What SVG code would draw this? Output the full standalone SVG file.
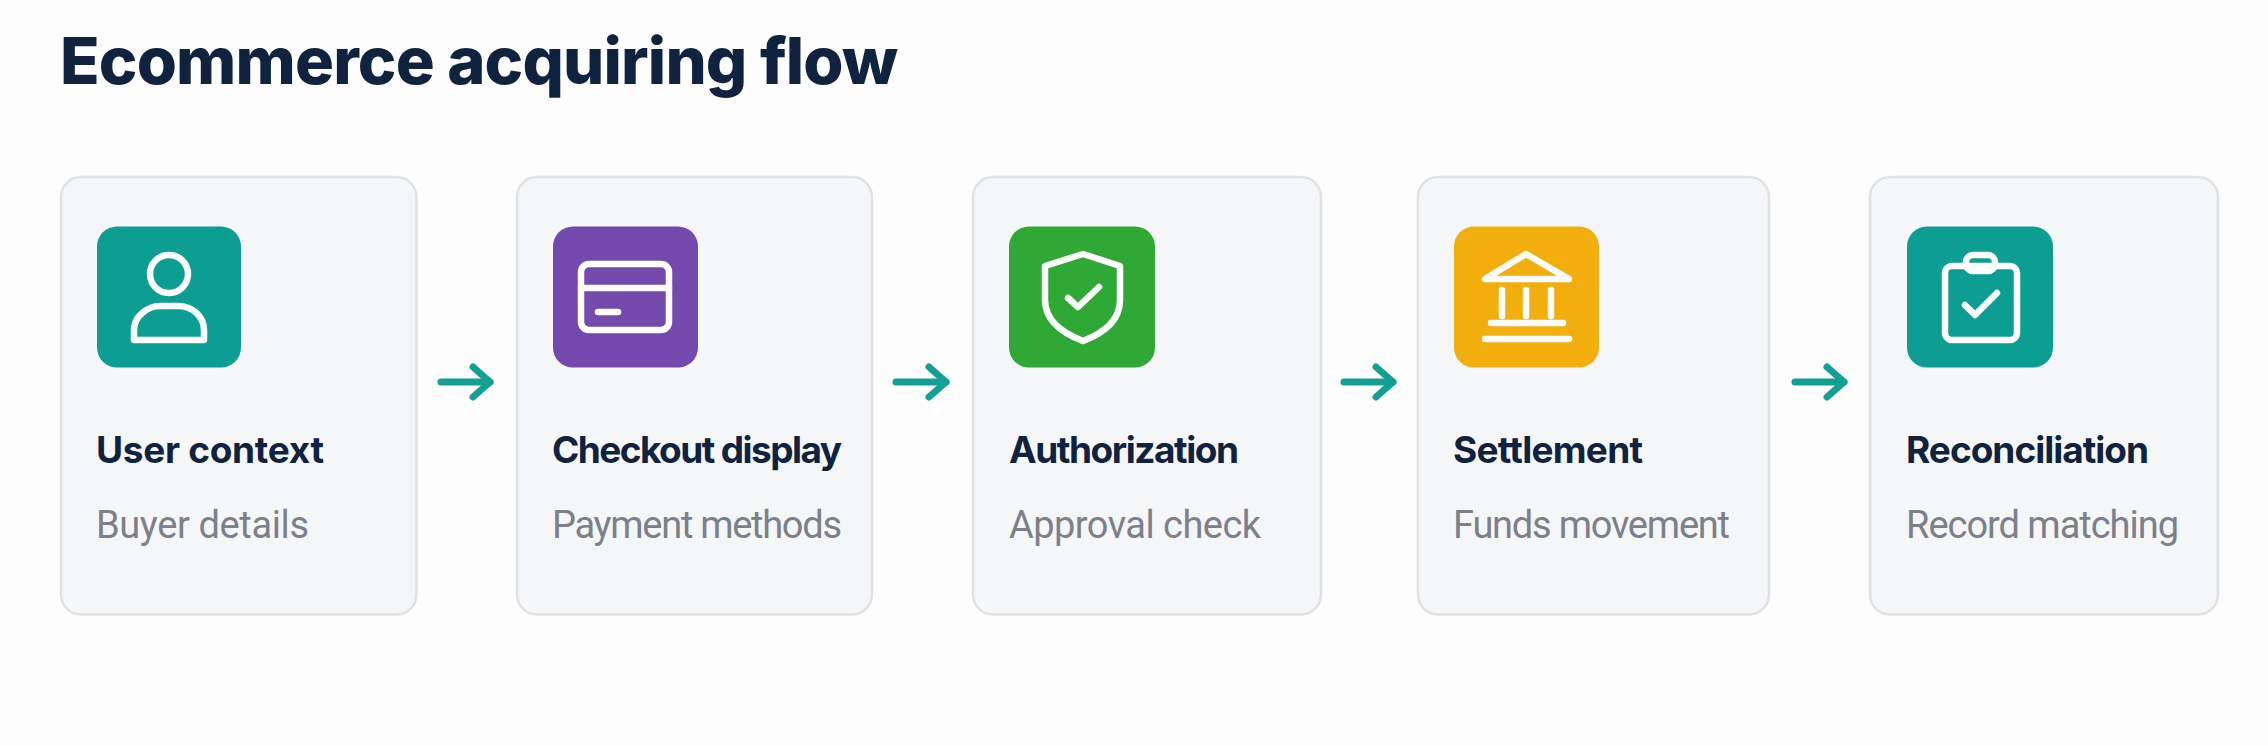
<svg xmlns="http://www.w3.org/2000/svg" width="2268" height="746" viewBox="0 0 2268 746">
<style>
.card{fill:#f5f6f8;stroke:#dfe1e5;stroke-width:2.5}
.ic{stroke:#fdfdfd;stroke-width:6.5;fill:none;stroke-linecap:round;stroke-linejoin:round}
.t{font-family:Inter,"Liberation Sans",sans-serif;font-weight:700;font-size:37px;fill:#0f2340}
.s{font-family:Roboto,"Liberation Sans",sans-serif;font-weight:400;font-size:38px;fill:#7c808a}
.title{font-family:Inter,"Liberation Sans",sans-serif;font-weight:800;font-size:65px;fill:#0f2340}
.conn{stroke:#12a095;stroke-width:7;fill:none;stroke-linecap:round;marker-end:url(#arrow)}
</style>
<defs>
<marker id="arrow" markerUnits="userSpaceOnUse" markerWidth="40" markerHeight="50" refX="30" refY="25" orient="auto" overflow="visible">
<path d="M13 10L30 25L13 40" fill="none" stroke="#12a095" stroke-width="7" stroke-linecap="round" stroke-linejoin="round"/>
</marker>
</defs>
<rect width="2268" height="746" fill="#fdfdfd"/>
<text id="title" class="title" x="60" y="84" textLength="838" lengthAdjust="spacing">Ecommerce acquiring flow</text>
<g id="node-user-context">
<rect class="card" x="61" y="177" width="355.5" height="437.5" rx="20"/>
<rect x="97" y="226.5" width="144" height="141" rx="20" fill="#0d9e93"/>
<circle class="ic" cx="169" cy="274" r="19"/>
<path class="ic" d="M134 340V330C134 316 148 306 160 306H178C192 306 204 316 204 330V340Z"/>
<text class="t" x="96" y="463" textLength="228" lengthAdjust="spacing">User context</text>
<text class="s" x="96" y="538" textLength="213" lengthAdjust="spacing">Buyer details</text>
</g>
<g id="node-checkout-display">
<rect class="card" x="517" y="177" width="355" height="437.5" rx="20"/>
<rect x="553" y="226.5" width="145" height="141" rx="20" fill="#7349ae"/>
<rect class="ic" x="581" y="264" width="88" height="66" rx="8"/>
<path class="ic" d="M581 288H669M598 312H618"/>
<text class="t" x="552" y="463" textLength="290" lengthAdjust="spacing">Checkout display</text>
<text class="s" x="552" y="538" textLength="290" lengthAdjust="spacing">Payment methods</text>
</g>
<g id="node-authorization">
<rect class="card" x="973" y="177" width="348" height="437.5" rx="20"/>
<rect x="1009" y="226.5" width="146" height="141" rx="20" fill="#2fa836"/>
<path class="ic" d="M1083 254L1120 266V300C1120 320 1104 333 1083 341C1062 333 1045 320 1045 300V266Z"/>
<path class="ic" d="M1068 298L1078 307L1099 287"/>
<text class="t" x="1009" y="463" textLength="230" lengthAdjust="spacing">Authorization</text>
<text class="s" x="1009" y="538" textLength="252" lengthAdjust="spacing">Approval check</text>
</g>
<g id="node-settlement">
<rect class="card" x="1418" y="177" width="351" height="437.5" rx="20"/>
<rect x="1454" y="226.5" width="145" height="141" rx="20" fill="#f2ae0d"/>
<path class="ic" d="M1526 254L1485 279H1569Z"/>
<path class="ic" d="M1502 290V316M1526 290V316M1551 290V316M1491 323H1563M1485 339H1569"/>
<text class="t" x="1453" y="463" textLength="190" lengthAdjust="spacing">Settlement</text>
<text class="s" x="1453" y="538" textLength="277" lengthAdjust="spacing">Funds movement</text>
</g>
<g id="node-reconciliation">
<rect class="card" x="1870" y="177" width="348" height="437.5" rx="20"/>
<rect x="1907" y="226.5" width="146" height="141" rx="20" fill="#0d9e93"/>
<rect class="ic" x="1945" y="266" width="72" height="74" rx="7"/>
<rect class="ic" x="1966" y="255" width="29" height="16" rx="7" fill="#0d9e93"/>
<path class="ic" d="M1965 305L1975 315L1997 293"/>
<text class="t" x="1906" y="463" textLength="243" lengthAdjust="spacing">Reconciliation</text>
<text class="s" x="1906" y="538" textLength="273" lengthAdjust="spacing">Record matching</text>
</g>
<g id="connectors">
<path class="conn" d="M441 382H490"/>
<path class="conn" d="M896 382H946"/>
<path class="conn" d="M1344 382H1393"/>
<path class="conn" d="M1795 382H1844"/>
</g>
</svg>
